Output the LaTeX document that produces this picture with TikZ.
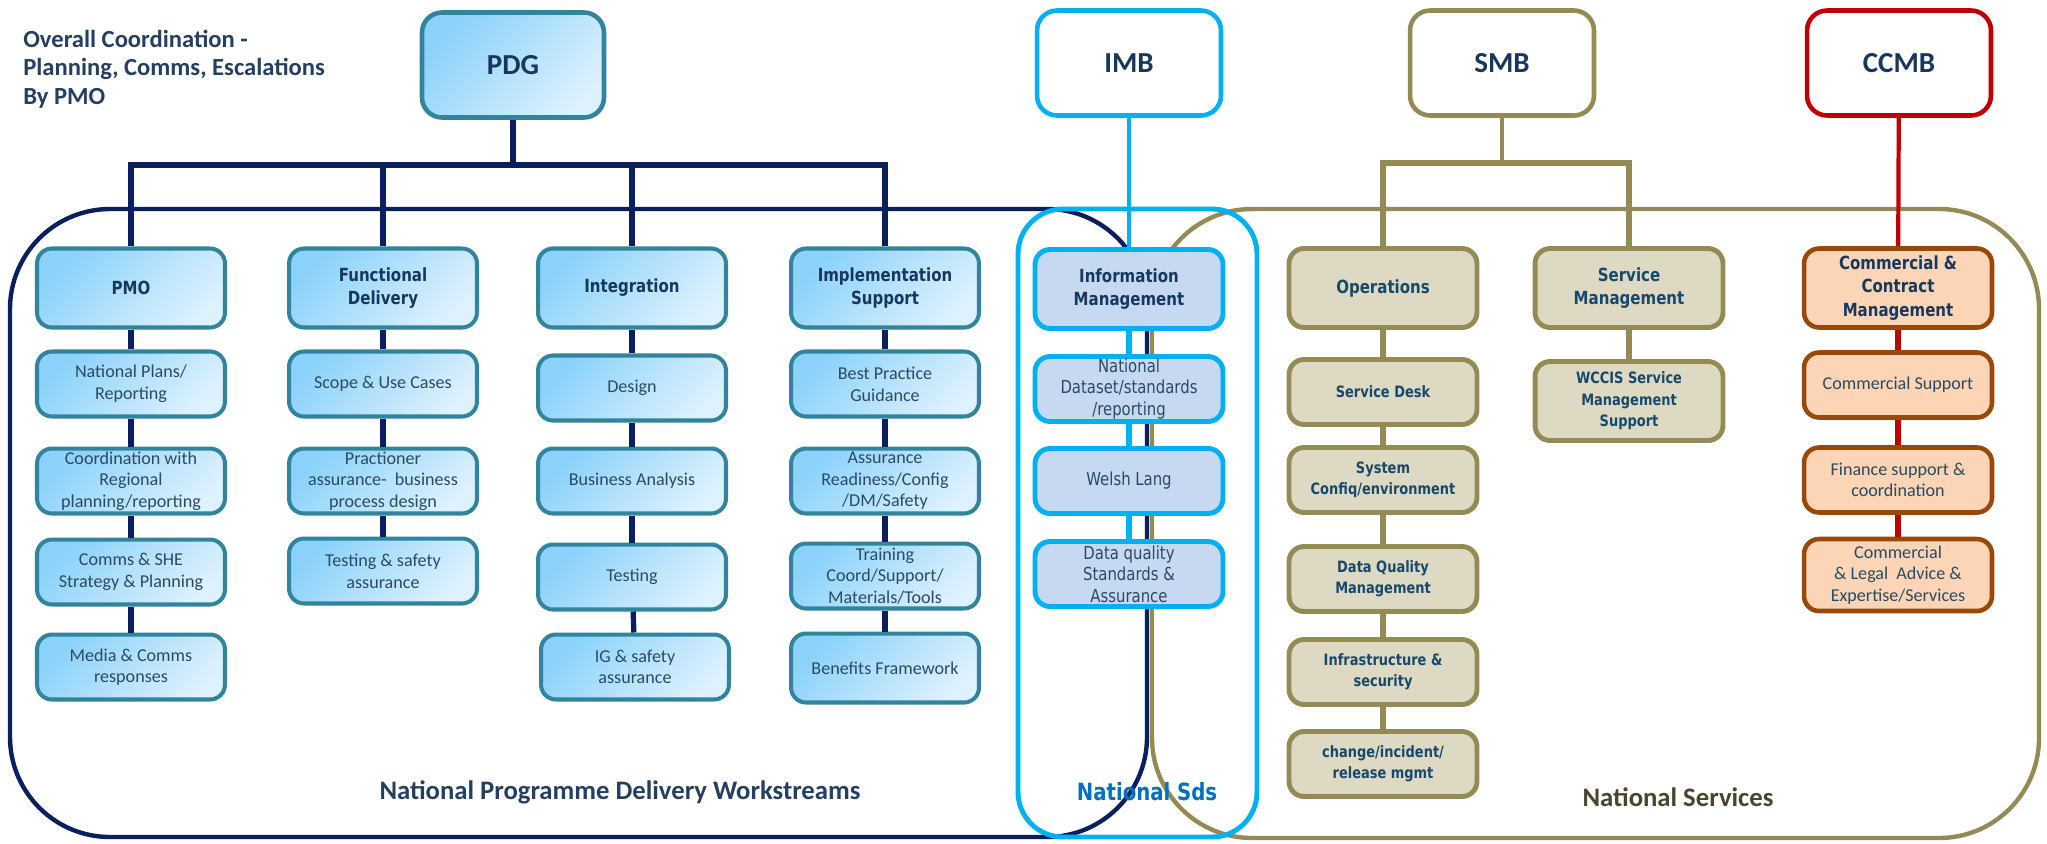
\documentclass[tikz,border=0pt]{standalone}
\usepackage{fontspec}
\setmainfont{Carlito}
\newfontfamily\vfont[FakeStretch=0.83]{DejaVu Sans}

\definecolor{pdgnavy}{HTML}{0B1F5E}
\definecolor{tealedge}{HTML}{31849B}
\definecolor{bluetop}{HTML}{8AD2FA}
\definecolor{bluebot}{HTML}{DDF1FE}
\definecolor{darktext}{HTML}{17375E}
\definecolor{bodytext}{HTML}{2C4A63}
\definecolor{imcyan}{HTML}{00B0F0}
\definecolor{imfill}{HTML}{C6D9F1}
\definecolor{smbolive}{HTML}{948A54}
\definecolor{olivefill}{HTML}{DDD9C3}
\definecolor{olivetext}{HTML}{17496B}
\definecolor{ccred}{HTML}{C00000}
\definecolor{orangeedge}{HTML}{984807}
\definecolor{orangefill}{HTML}{FBD5B5}
\definecolor{sdsblue}{HTML}{0070C0}
\definecolor{nstext}{HTML}{4A452A}
\definecolor{npdtext}{HTML}{243F60}

\newcommand\calsm{\fontsize{10.3}{12.3}\selectfont}
\newcommand\hdfont{\vfont\bfseries\fontsize{10.3}{13.4}\selectfont}
\newcommand\vsm{\vfont\fontsize{10.2}{12.2}\selectfont}
\newcommand\vsmbold{\vfont\bfseries\fontsize{8.9}{12.2}\selectfont}
\newcommand\boardfont{\bfseries\fontsize{16.5}{19}\selectfont}
\newcommand\areafont{\bfseries\fontsize{15.2}{18}\selectfont}
\newcommand\notefont{\bfseries\fontsize{14}{16.3}\selectfont}

\tikzset{
  box/.style={rounded corners=0.3cm, minimum width=3.76cm, minimum height=1.3cm,
    inner sep=1pt, align=center},
  wsbox/.style={box, draw=tealedge, line width=2.3pt, top color=bluetop,
    bottom color=bluebot, shading angle=45, text=bodytext, font=\calsm},
  wshead/.style={wsbox, minimum height=1.58cm, text=darktext, font=\hdfont},
  imbox/.style={box, draw=imcyan, fill=imfill, line width=2.8pt, text=bodytext, font=\vsm},
  imhead/.style={imbox, minimum height=1.58cm, text=darktext, font=\hdfont},
  smbox/.style={box, draw=smbolive, fill=olivefill, line width=2.8pt, text=olivetext, font=\vsmbold},
  smhead/.style={smbox, minimum height=1.58cm, font=\hdfont},
  ccbox/.style={box, draw=orangeedge, fill=orangefill, line width=2.6pt, text=bodytext, font=\calsm},
  cchead/.style={ccbox, minimum height=1.58cm, text=darktext, font=\hdfont},
  board/.style={draw=#1, fill=white, line width=2.6pt, rounded corners=0.4cm,
    minimum width=3.68cm, minimum height=2.1cm, text=darktext, font=\boardfont},
  conn/.style={draw=#1, line width=3pt},
  zone/.style={draw=#1, line width=2.5pt, rounded corners=2cm},
}

\begin{document}
\begin{tikzpicture}[x=0.02cm, y=-0.02cm]
\useasboundingbox (0,0) rectangle (2047,843);

% the three areas
\draw[zone=pdgnavy] (10,209) rectangle (1147,837);
\draw[zone=smbolive] (1152,209) rectangle (2039,838);
\draw[zone=imcyan, rounded corners=0.9cm, line width=2.8pt] (1018,209) rectangle (1257,837);

\node[anchor=west, align=left, inner sep=0pt, text=npdtext, font=\notefont] (note) at (23,69)
  {Overall Coordination -\\Planning, Comms, Escalations\\By PMO};

% boards
\node[board=tealedge, top color=bluetop, bottom color=bluebot, shading angle=45,
  minimum width=3.64cm] (pdg) at (513,65) {PDG};
\node[board=imcyan] (imb) at (1129,63) {IMB};
\node[board=smbolive] (smb) at (1502,63) {SMB};
\node[board=ccred] (ccmb) at (1899,63) {CCMB};

% workstreams
\node[wshead] (pmo) at (131,288) {PMO};
\node[wsbox] (pmoa) at (131,384) {National Plans/\\Reporting};
\node[wsbox] (pmob) at (131,481) {Coordination with\\Regional\\planning/reporting};
\node[wsbox] (pmoc) at (131,572) {Comms \& SHE\\Strategy \& Planning};
\node[wsbox] (pmod) at (131,667) {Media \& Comms\\responses};

\node[wshead] (func) at (383,288) {Functional\\Delivery};
\node[wsbox] (funca) at (383,384) {Scope \& Use Cases};
\node[wsbox] (funcb) at (383,481) {Practioner\\assurance-~~business\\process design};
\node[wsbox] (funcc) at (383,571) {Testing \& safety\\assurance};

\node[wshead] (integ) at (632,288) {Integration};
\node[wsbox] (intega) at (632,388) {Design};
\node[wsbox] (integb) at (632,481) {Business Analysis};
\node[wsbox] (integc) at (632,577) {Testing};
\node[wsbox] (integd) at (635,667) {IG \& safety\\assurance};

\node[wshead] (impl) at (885,288) {Implementation\\Support};
\node[wsbox] (impla) at (885,384) {Best Practice\\Guidance};
\node[wsbox] (implb) at (885,481) {Assurance\\Readiness/Config\\/DM/Safety};
\node[wsbox] (implc) at (885,576) {Training\\Coord/Support/\\Materials/Tools};
\node[wsbox, minimum height=1.38cm] (impld) at (885,668) {Benefits Framework};

% information management
\node[imhead] (info) at (1129,289) {Information\\Management};
\node[imbox] (infoa) at (1129,389) {National\\Dataset/standards\\/reporting};
\node[imbox] (infob) at (1129,481) {Welsh Lang};
\node[imbox] (infoc) at (1129,574) {Data quality\\Standards \&\\Assurance};

% services
\node[smhead] (ops) at (1383,288) {Operations};
\node[smbox] (opsa) at (1383,392) {Service Desk};
\node[smbox] (opsb) at (1383,480) {System\\Confiq/environment};
\node[smbox] (opsc) at (1383,579) {Data Quality\\Management};
\node[smbox] (opsd) at (1383,672) {Infrastructure \&\\security};
\node[smbox] (opse) at (1383,764) {change/incident/\\release mgmt};

\node[smhead] (svc) at (1629,288) {Service\\Management};
\node[smbox, minimum height=1.58cm] (svca) at (1629,401) {WCCIS Service\\Management\\Support};

% commercial
\node[cchead] (comm) at (1898,288) {Commercial \&\\Contract\\Management};
\node[ccbox] (comma) at (1898,385) {Commercial Support};
\node[ccbox] (commb) at (1898,480) {Finance support \&\\coordination};
\node[ccbox, minimum height=1.44cm] (commc) at (1898,575) {Commercial\\\& Legal~~Advice \&\\Expertise/Services};

% area labels
\node[font=\areafont, text=npdtext] (npdlabel) at (620,792) {National Programme Delivery Workstreams};
\node[font=\vfont\bfseries\fontsize{13.5}{16}\selectfont, text=sdsblue] (sdslabel) at (1147,792) {National Sds};
\node[font=\areafont, text=nstext] (nslabel) at (1678,797) {National Services};

% connectors
\coordinate (pdgbar) at (513,165);
\coordinate (smbbar) at (1502,163);
\draw[conn=pdgnavy] (pdg) -- (pdgbar);
\draw[conn=pdgnavy] (pmo) -- (pmo |- pdgbar) -- (impl |- pdgbar) -- (impl);
\foreach \col in {func, integ}
  \draw[conn=pdgnavy] (\col |- pdgbar) -- (\col);
\draw[conn=imcyan, line width=2.6pt] (imb) -- (info);
\draw[conn=smbolive, line width=2.6pt] (smb) -- (smbbar);
\draw[conn=smbolive] (ops) -- (ops |- smbbar) -- (svc |- smbbar) -- (svc);
\draw[conn=ccred, line width=2.4pt] (ccmb) -- (comm);

\foreach \a/\b in {pmo/pmoa, pmoa/pmob, pmob/pmoc, pmoc/pmod,
    func/funca, funca/funcb, funcb/funcc,
    integ/intega, intega/integb, integb/integc, integc/integd,
    impl/impla, impla/implb, implb/implc, implc/impld}
  \draw[conn=pdgnavy] (\a) -- (\b);
\foreach \a/\b in {info/infoa, infoa/infob, infob/infoc}
  \draw[conn=imcyan] (\a) -- (\b);
\foreach \a/\b in {ops/opsa, opsa/opsb, opsb/opsc, opsc/opsd, opsd/opse, svc/svca}
  \draw[conn=smbolive] (\a) -- (\b);
\foreach \a/\b in {comm/comma, comma/commb, commb/commc}
  \draw[conn=ccred] (\a) -- (\b);
\end{tikzpicture}
\end{document}
